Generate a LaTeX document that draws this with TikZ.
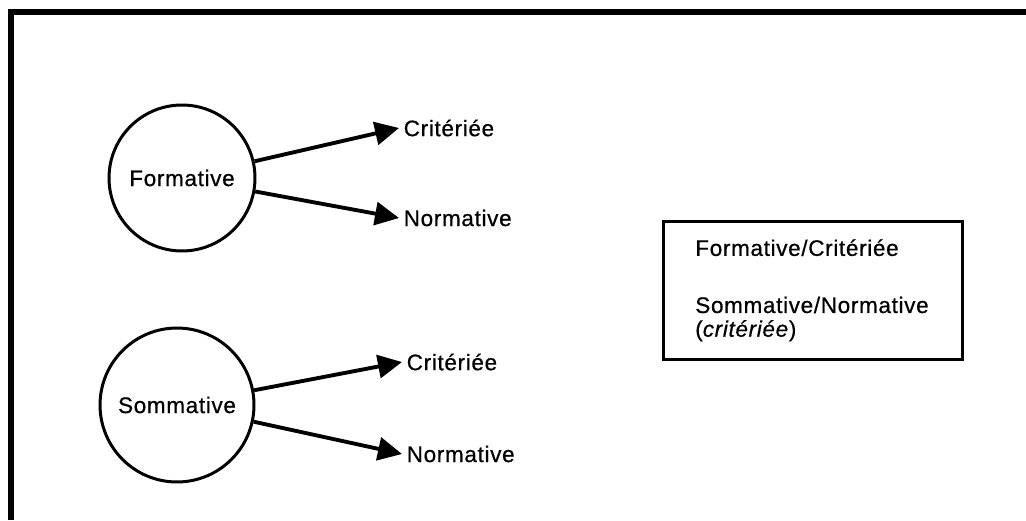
\documentclass[tikz,border=0pt]{standalone}
\usepackage{fontspec}
\setmainfont{Liberation Sans}[LetterSpace=3,FakeBold=0.6]
\usetikzlibrary{arrows.meta}
\usetikzlibrary{positioning}

\begin{document}
\begin{tikzpicture}[x=0.02cm,y=-0.02cm,every node/.style={font=\fontsize{12.8}{13.5}\selectfont},
  kind/.style={draw,circle,line width=1.7pt,inner sep=0pt},
  result/.style={anchor=west,inner sep=2.5pt},
  link/.style={line width=2.2pt,-{Triangle[length=0.48cm,width=0.46cm]}}]
  \useasboundingbox (0,0) rectangle (1026,520);
  \draw[line width=3pt](11,520)--(11,12)--(1026,12);

  \node[kind,minimum size=2.92cm] (form) at (182,178){Formative};
  \node[result] (crit1) at (399,128){Crit\'eri\'ee};
  \node[result] (norm1) at (399,218){Normative};

  \node[kind,minimum size=3.08cm] (somm) at (177,405){Sommative};
  \node[result] (crit2) at (402,362){Crit\'eri\'ee};
  \node[result] (norm2) at (402,454){Normative};

  \node[draw,line width=1.5pt,anchor=north west,align=left,text width=4.7cm,inner xsep=0.64cm,inner ysep=0.36cm] (summary) at (662,220)
    {Formative/Crit\'eri\'ee\\[19pt]Sommative/Normative\\(\textit{crit\'eri\'ee})};

  \draw[link](form)--(crit1.west);
  \draw[link](form)--(norm1.west);
  \draw[link](somm)--(crit2.west);
  \draw[link](somm)--(norm2.west);
\end{tikzpicture}
\end{document}
